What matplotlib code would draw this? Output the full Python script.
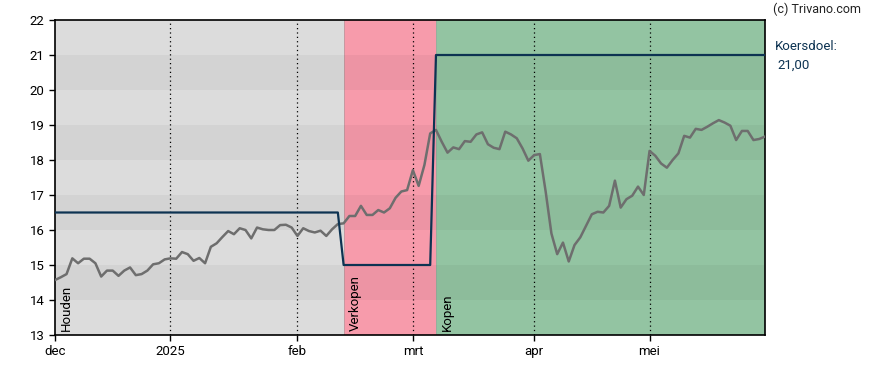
import matplotlib
matplotlib.use("Agg")
import matplotlib.pyplot as plt

plt.rcParams['font.family'] = ['Roboto', 'DejaVu Sans']

# Daily closing prices (trading-day index 0..123)
prices = [14.57, 14.65, 14.74, 15.19, 15.05, 15.18, 15.18, 15.05, 14.67, 14.84,
          14.84, 14.69, 14.84, 14.93, 14.71, 14.74, 14.84, 15.02, 15.05, 15.16,
          15.19, 15.18, 15.37, 15.31, 15.12, 15.20, 15.05, 15.52, 15.62, 15.80,
          15.97, 15.88, 16.05, 16.00, 15.76, 16.07, 16.02, 16.00, 16.00, 16.14,
          16.15, 16.07, 15.83, 16.05, 15.97, 15.93, 15.98, 15.83, 16.02, 16.17,
          16.19, 16.40, 16.40, 16.69, 16.43, 16.43, 16.57, 16.50, 16.62, 16.92,
          17.10, 17.14, 17.71, 17.26, 17.86, 18.76, 18.86, 18.52, 18.21, 18.36,
          18.31, 18.54, 18.52, 18.73, 18.79, 18.45, 18.35, 18.31, 18.81, 18.73,
          18.62, 18.33, 17.98, 18.14, 18.17, 17.10, 15.90, 15.31, 15.64, 15.10,
          15.57, 15.79, 16.12, 16.45, 16.52, 16.50, 16.69, 17.41, 16.64, 16.88,
          16.98, 17.24, 17.00, 18.26, 18.12, 17.90, 17.78, 18.00, 18.19, 18.69,
          18.64, 18.89, 18.86, 18.95, 19.05, 19.14, 19.07, 18.98, 18.57, 18.83,
          18.83, 18.57, 18.60, 18.67]

# Target price (koersdoel) step line
target_idx = [0, 49, 50, 65, 66, 123]
target_vals = [16.5, 16.5, 15.0, 15.0, 21.0, 21.0]

# Advice regions
region_starts = [0, 50, 66]
region_ends = [50, 66, 123]
region_labels = ['Houden', 'Verkopen', 'Kopen']
region_colors = ['#dcdcdc', '#f79bab', '#93c4a2']

# X ticks (trading-day index)
xtick_pos = [0, 20, 42, 62, 83, 103]
xtick_labels = ['dec', '2025', 'feb', 'mrt', 'apr', 'mei']
yticks = list(range(13, 23))

fig = plt.figure(figsize=(8.88, 3.70), dpi=100)
ax = fig.add_axes([55/888, 35/370, 710/888, 315/370])

for s, e, c in zip(region_starts, region_ends, region_colors):
    ax.axvspan(s, e, color=c, lw=0, zorder=0)
for s in region_starts[1:]:
    ax.axvline(s, color='#999999', lw=0.6, alpha=0.6, zorder=0.5)
# horizontal bands
for y0 in range(14, 22, 2):
    ax.axhspan(y0, y0 + 1, color='black', alpha=0.04, lw=0, zorder=0.6)

for xp in xtick_pos[1:]:
    ax.axvline(xp, color='black', lw=0.9, ls=(0, (1, 2.5)), zorder=1)

x = list(range(len(prices)))
ax.plot(x, prices, color='#6e6e6e', lw=1.8, zorder=3)
ax.plot(target_idx, target_vals, color='#0d3352', lw=1.6, zorder=4)

for s, lab in zip(region_starts, region_labels):
    ax.text(s + 0.9, 13.12, lab, rotation=90, ha='left', va='bottom',
            fontsize=9.5, color='black', zorder=5)

ax.set_xlim(0, 123)
ax.set_ylim(13, 22)
ax.set_xticks(xtick_pos)
ax.set_xticklabels(xtick_labels)
ax.set_yticks(yticks)
ax.tick_params(labelsize=9.5, length=4, width=1, colors='black', direction='out')
for sp in ax.spines.values():
    sp.set_color('black')
    sp.set_linewidth(1.2)

fig.text(773/888, 1 - 9/370, '(c) Trivano.com', fontsize=9, ha='left', va='center', color='#222222')
fig.text(775/888, 1 - 46/370, 'Koersdoel:', fontsize=9.5, ha='left', va='center', color='#0d3352')
fig.text(777/888, 1 - 65/370, '21,00', fontsize=9.5, ha='left', va='center', color='#0d3352')

fig.savefig('out.png', dpi=100)
